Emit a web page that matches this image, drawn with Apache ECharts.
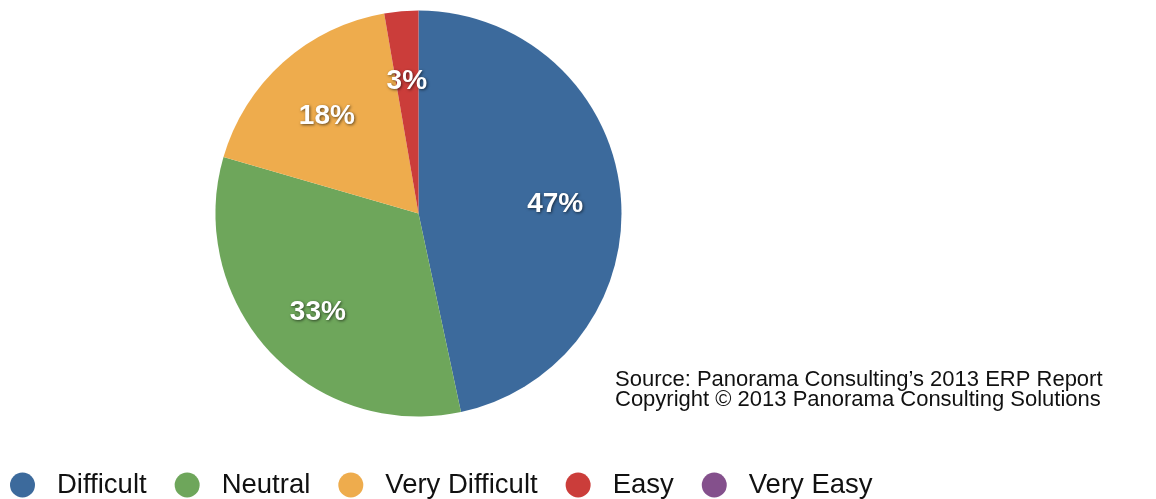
<!DOCTYPE html>
<html>
<head>
<meta charset="utf-8">
<script src="https://cdn.jsdelivr.net/npm/echarts@6/dist/echarts.min.js"></script>
<style>
html,body{margin:0;padding:0;background:#fff;}
#chart{width:1156px;height:499px;}
</style>
</head>
<body>
<div id="chart"></div>
<script>
const categories = ['Difficult', 'Neutral', 'Very Difficult', 'Easy', 'Very Easy'];
const values = [46.6, 32.8, 17.8, 2.7, 0];
const colors = ['#3C6A9C', '#6EA65B', '#EEAC4D', '#CB3D3A', '#84508C'];
const sourceLines = ["Source: Panorama Consulting\u2019s 2013 ERP Report", "Copyright \u00A9 2013 Panorama Consulting Solutions"];

const pieData = categories.map((c, i) => ({ name: c, value: values[i], itemStyle: { color: colors[i] } }));
const labelData = categories.map((c, i) => ({ name: c, value: values[i] }));

const chart = echarts.init(document.getElementById('chart'));
chart.setOption({
  animation: false,
  backgroundColor: '#fff',
  legend: {
    data: categories,
    left: 5,
    top: 466,
    icon: 'circle',
    itemWidth: 25,
    itemHeight: 25,
    itemGap: 28,
    textStyle: { fontFamily: 'Liberation Sans', fontSize: 27.5, color: '#111', padding: [0, 0, 0, 17] }
  },
  graphic: [{
    type: 'text',
    left: 615,
    top: 369,
    style: {
      text: sourceLines.join('\n'),
      font: '22px "Liberation Sans"',
      fill: '#111',
      lineHeight: 20
    }
  }],
  series: [{
    type: 'pie',
    center: [418.5, 213.5],
    radius: [0, 203],
    startAngle: 90,
    clockwise: true,
    silent: true,
    label: { show: false },
    labelLine: { show: false },
    data: pieData
  }, {
    type: 'pie',
    center: [418.5, 213.5],
    radius: [66, 203],
    startAngle: 90,
    clockwise: true,
    silent: true,
    itemStyle: { color: 'rgba(0,0,0,0)' },
    label: {
      show: true,
      position: 'inside',
      formatter: p => p.value > 0 ? Math.round(p.value) + '%' : '',
      fontFamily: 'Liberation Sans',
      fontWeight: 'bold',
      fontSize: 28,
      color: '#fff',
      textShadowColor: 'rgba(0,0,0,0.6)',
      textShadowBlur: 3,
      textShadowOffsetX: 1,
      textShadowOffsetY: 1
    },
    labelLayout: { dy: 5 },
    labelLine: { show: false },
    data: labelData
  }]
});
</script>
</body>
</html>
